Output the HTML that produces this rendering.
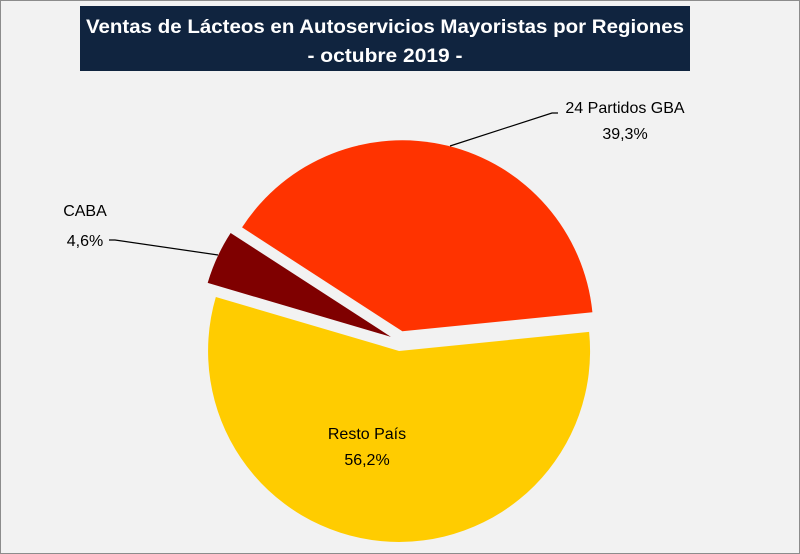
<!DOCTYPE html>
<html><head><meta charset="utf-8"><style>
body{margin:0;background:#fff}
svg{display:block}
text{font-family:"Liberation Sans",sans-serif}
</style></head><body>
<svg width="800" height="554" viewBox="0 0 800 554">
<rect x="0.5" y="0.5" width="799" height="553" fill="#f2f2f2" stroke="#8c8c8c"/>
<g>
<rect x="80" y="6" width="610" height="65" fill="#10243f"/>
<text x="385" y="33" text-anchor="middle" fill="#fff" font-weight="bold" font-size="19" textLength="598" lengthAdjust="spacingAndGlyphs">Ventas de Lácteos en Autoservicios Mayoristas por Regiones</text>
<text x="385" y="62" text-anchor="middle" fill="#fff" font-weight="bold" font-size="19" textLength="155" lengthAdjust="spacingAndGlyphs">- octubre 2019 -</text>
</g>
<g id="slices"></g>
<g stroke="#000" stroke-width="1.2" fill="none">
<polyline points="450,146 552,113 558,113"/>
<polyline points="109,240 115,240 218,255"/>
</g>
<g font-size="16" fill="#000">
<text x="625" y="113" text-anchor="middle">24 Partidos GBA</text>
<text x="625" y="139" text-anchor="middle">39,3%</text>
<text x="85" y="216" text-anchor="middle">CABA</text>
<text x="85" y="246" text-anchor="middle">4,6%</text>
<text x="367" y="439" text-anchor="middle">Resto País</text>
<text x="367" y="465" text-anchor="middle">56,2%</text>
</g>
</svg>
<script>
const categories = ["CABA", "24 Partidos GBA", "Resto País"];
const values = [4.6, 39.3, 56.2];
const colors = ["#7f0000", "#ff3300", "#ffcc00"];
const sliceNames = ["slice-caba", "slice-gba", "slice-resto"];
const cx = 400, cy = 341, r = 191, explode = 10, startDeg = 286.4;
const g = document.getElementById('slices');
const total = values.reduce((a, b) => a + b, 0);
let a = startDeg;
values.forEach((v, i) => {
  const span = v / total * 360;
  const mid = (a + span / 2) * Math.PI / 180;
  const ox = cx + explode * Math.sin(mid), oy = cy - explode * Math.cos(mid);
  const a0 = a * Math.PI / 180, a1 = (a + span) * Math.PI / 180;
  const x0 = ox + r * Math.sin(a0), y0 = oy - r * Math.cos(a0);
  const x1 = ox + r * Math.sin(a1), y1 = oy - r * Math.cos(a1);
  const large = span > 180 ? 1 : 0;
  const p = document.createElementNS('http://www.w3.org/2000/svg', 'path');
  p.setAttribute('d', `M${ox},${oy} L${x0},${y0} A${r},${r} 0 ${large} 1 ${x1},${y1} Z`);
  p.setAttribute('fill', colors[i]);
  
  
  g.appendChild(p);
  a += span;
});
</script>
</body></html>
